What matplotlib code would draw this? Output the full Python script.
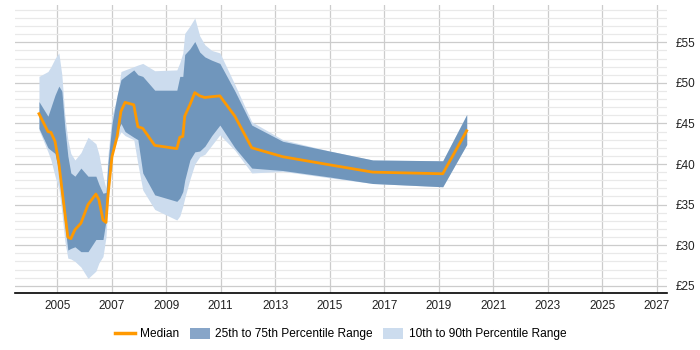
import matplotlib
matplotlib.use("Agg")
import matplotlib.pyplot as plt
from matplotlib.lines import Line2D
from matplotlib.patches import Patch
from matplotlib.ticker import MultipleLocator, FuncFormatter

plt.rcParams["font.family"] = ["Liberation Sans", "DejaVu Sans"]

years = [2004.33, 2004.66, 2004.77, 2004.92, 2005.06, 2005.17, 2005.28, 2005.39, 2005.50, 2005.65,
         2005.87, 2006.13, 2006.42, 2006.53, 2006.68, 2006.79, 2006.86, 2007.01, 2007.20, 2007.34,
         2007.49, 2007.81, 2007.96, 2008.14, 2008.58, 2009.39, 2009.50, 2009.61, 2009.68, 2009.87,
         2010.05, 2010.23, 2010.42, 2010.67, 2010.97, 2011.52, 2012.14, 2013.28, 2015.00, 2016.58,
         2019.15, 2020.03]

median = [46.2, 44.0, 43.9, 42.8, 40.1, 37.0, 34.0, 31.0, 30.8, 31.9,
          32.7, 35.0, 36.3, 35.6, 33.1, 32.8, 36.0, 40.9, 43.4, 46.5,
          47.6, 47.3, 44.6, 44.4, 42.3, 41.9, 43.3, 43.4, 45.9, 47.3,
          48.8, 48.4, 48.2, 48.3, 48.4, 45.9, 42.0, 40.9, 39.9, 39.0,
          38.8, 44.1]

p75 = [47.7, 45.9, 47.0, 48.5, 49.6, 49.0, 44.5, 41.0, 38.9, 38.5,
       39.5, 38.5, 38.5, 37.5, 36.4, 36.5, 40.0, 45.0, 48.5, 50.4,
       50.8, 51.6, 51.0, 50.8, 49.1, 49.1, 50.8, 50.8, 53.5, 54.2,
       55.1, 53.8, 53.2, 52.8, 52.4, 49.0, 44.8, 42.8, 41.6, 40.5,
       40.4, 46.1]

p25 = [44.4, 42.0, 41.7, 41.3, 39.0, 35.6, 32.5, 29.4, 29.6, 29.8,
       29.2, 29.2, 30.7, 30.7, 30.7, 33.0, 36.5, 41.0, 44.0, 45.0,
       44.0, 43.3, 43.0, 38.9, 36.2, 35.4, 35.8, 36.6, 38.0, 40.5,
       41.5, 41.6, 42.2, 43.5, 44.8, 42.0, 39.5, 39.2, 38.4, 37.6,
       37.2, 42.4]

p90 = [50.8, 51.4, 52.0, 53.0, 53.7, 51.0, 46.0, 43.0, 41.3, 40.5,
       41.4, 43.3, 42.5, 41.2, 38.5, 37.0, 41.0, 46.0, 48.2, 51.4,
       51.6, 52.0, 52.2, 52.4, 51.5, 51.6, 52.5, 53.7, 56.1, 57.0,
       58.0, 55.8, 54.7, 54.0, 53.7, 49.8, 45.2, 43.0, 41.6, 40.5,
       40.4, 46.1]

p10 = [44.2, 41.5, 40.5, 38.5, 37.0, 34.0, 30.5, 28.4, 28.3, 28.0,
       27.3, 25.9, 26.8, 27.8, 28.6, 31.0, 35.0, 41.0, 43.0, 44.0,
       43.5, 43.0, 40.0, 36.8, 34.4, 33.1, 33.6, 34.8, 35.8, 38.1,
       40.0, 40.9, 41.2, 42.3, 43.6, 41.7, 38.9, 39.1, 38.3, 37.6,
       37.2, 42.4]

x_ticks = [2005, 2007, 2009, 2011, 2013, 2015, 2017, 2019, 2021, 2023, 2025, 2027]
legend_labels = ["Median", "25th to 75th Percentile Range", "10th to 90th Percentile Range"]

c_med = "#ff9900"
c_dark = "#7096bc"
c_light = "#ccdcee"

fig = plt.figure(figsize=(7, 3.5), dpi=100)
ax = fig.add_axes([0.0214, 0.1637, 0.9314, 0.822])

ax.fill_between(years, p10, p90, color=c_light, linewidth=0, zorder=2)
ax.fill_between(years, p25, p75, color=c_dark, linewidth=0, zorder=3)
ax.plot(years, median, color=c_med, linewidth=2, zorder=4)

ax.set_xlim(2003.45, 2027.38)
ax.set_ylim(24.14, 59.6)

ax.set_xticks(x_ticks)
ax.xaxis.set_major_formatter(FuncFormatter(lambda v, p: f"{int(round(v))}"))
ax.yaxis.set_major_locator(MultipleLocator(5))
ax.yaxis.set_minor_locator(MultipleLocator(1))
ax.yaxis.set_major_formatter(FuncFormatter(lambda v, p: f"£{int(round(v))}"))
ax.yaxis.tick_right()

ax.grid(True, which="major", axis="both", color="#cccccc", linewidth=0.9, zorder=0)
ax.grid(True, which="minor", axis="y", color="#e9e9e9", linewidth=0.9, zorder=0)
ax.set_axisbelow(True)

for s in ["top", "right", "left"]:
    ax.spines[s].set_visible(False)
ax.spines["bottom"].set_color("#000000")
ax.spines["bottom"].set_linewidth(1.2)

ax.tick_params(axis="x", which="both", length=0, pad=5, labelsize=8.5, colors="#222222")
ax.tick_params(axis="y", which="both", length=0, pad=6.5, labelsize=8.5, colors="#222222")

handles = [Line2D([0], [0], color=c_med, linewidth=2.5),
           Patch(facecolor="#87a5c8", edgecolor="none"),
           Patch(facecolor=c_light, edgecolor="none")]
fig.legend(handles, legend_labels, loc="center", bbox_to_anchor=(0.4864, 0.045), ncol=3,
           frameon=False, fontsize=8.6, handlelength=1.7, handleheight=1.0, columnspacing=0.85,
           handletextpad=0.45)

fig.savefig("out.png", dpi=100)
